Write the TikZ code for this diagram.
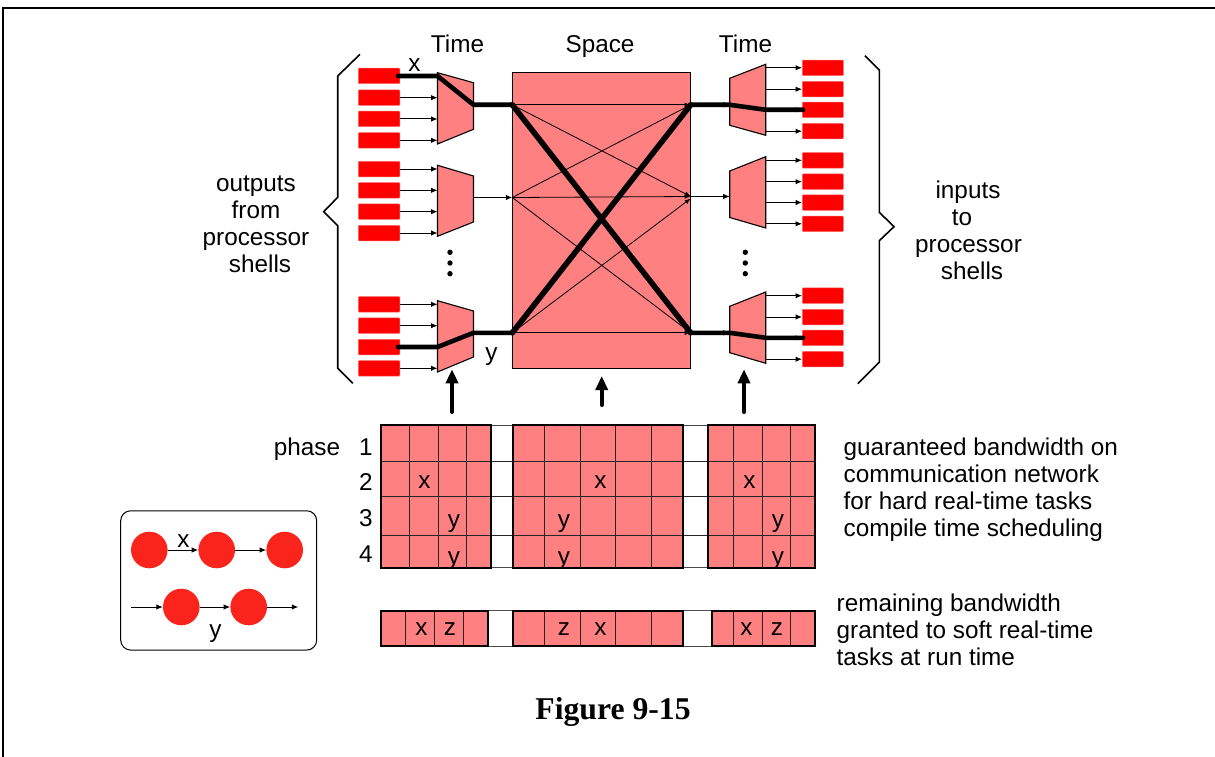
\documentclass[tikz,border=0pt]{standalone}
\usepackage{fontspec}
\setmainfont{Liberation Sans}
\newfontfamily\figfont{Liberation Serif}
\usetikzlibrary{arrows.meta,calc}
\definecolor{cellpink}{HTML}{FF8080}
\definecolor{barred}{HTML}{FF0000}
\definecolor{circred}{HTML}{FA241C}
\tikzset{
  x=1pt,y=-1pt,
  lbl/.style={inner sep=0pt,anchor=base,font=\fontsize{24.3}{27}\selectfont},
  lbll/.style={lbl,anchor=base west},
  barbox/.style={fill=barred,draw=barred!60!white,line width=.5pt,rounded corners=.8pt,minimum width=41.5pt,minimum height=15.5pt,inner sep=0pt},
  rbarbox/.style={barbox,minimum width=41pt},
  thinarr/.style={line width=1pt,-{Latex[length=6.5pt,width=5.5pt]}},
  thickln/.style={line width=4.6pt,line cap=round,line join=round},
  thickdiag/.style={line width=5.6pt,line cap=round},
  tz/.style={fill=cellpink,draw=black,line width=1.1pt,line join=miter},
  xbar/.style={line width=.8pt,-{Latex[length=6pt,width=4.5pt]}},
  brace/.style={line width=1.6pt,line join=miter},
  upar/.style={line width=4pt,line cap=round,-{Triangle[length=14pt,width=12pt]}},
  blockb/.style={draw=black,line width=2pt},
  gridl/.style={draw=black!85,line width=.9pt},
  gapl/.style={draw=black!70,line width=.9pt},
  circ/.style={circle,fill=circred,draw=none,minimum size=36.6pt,inner sep=0pt},
  dotn/.style={circle,fill=black,minimum size=5.4pt,inner sep=0pt},
}
\begin{document}
\begin{tikzpicture}
\useasboundingbox (0,0) rectangle (1215,757);
% frame
\coordinate (fa) at (3,757); \coordinate (fb) at (3,8); \coordinate (fc) at (1215,8);
\draw[line width=2pt,line join=miter] (fa) -- (fb) -- (fc);
% left bars
\foreach \n/\y in {1/76,2/97.7,3/119,4/140.3,5/169,6/190.3,7/211.7,8/233,9/304.3,10/325.7,11/347,12/368.3}
  \node[barbox] (lb\n) at (379,\y) {};
% right bars
\foreach \n/\y in {1/67.8,2/89.2,3/109.8,4/131.2,5/160.3,6/181.7,7/202.5,8/223.8,9/295.7,10/317,11/337.8,12/359.2}
  \node[rbarbox] (rb\n) at (822.8,\y) {};
% space rectangle
\node[fill=cellpink,draw=black,line width=1.1pt,minimum width=178.4pt,minimum height=295.6pt,inner sep=0pt] (sp) at (601.5,220.5) {};
\coordinate (sl1) at (512.3,104.8); \coordinate (sl2) at (512.3,197.5); \coordinate (sl3) at (512.3,332.8);
\coordinate (sr1) at (690.7,104.8); \coordinate (sr2) at (690.7,196.5); \coordinate (sr3) at (690.7,332.8);
\coordinate (sr2b) at (690.7,198.5);
% left trapezoids
\coordinate (lt1a) at (437.5,72.7);\coordinate (lt1b) at (473.5,82.7);\coordinate (lt1c) at (473.5,129.3);\coordinate (lt1d) at (437.5,144);
\coordinate (lt2a) at (437.5,165.3);\coordinate (lt2b) at (473.5,176);\coordinate (lt2c) at (473.5,222);\coordinate (lt2d) at (437.5,236.3);
\coordinate (lt3a) at (437.5,300.7);\coordinate (lt3b) at (473.5,311);\coordinate (lt3c) at (473.5,357);\coordinate (lt3d) at (437.5,372);
% right trapezoids
\coordinate (rt1a) at (729.7,78.3);\coordinate (rt1b) at (765.7,64.3);\coordinate (rt1c) at (765.7,135.3);\coordinate (rt1d) at (729.7,125.3);
\coordinate (rt2a) at (729.7,171);\coordinate (rt2b) at (765.7,156.7);\coordinate (rt2c) at (765.7,228);\coordinate (rt2d) at (729.7,217.5);
\coordinate (rt3a) at (729.7,306.3);\coordinate (rt3b) at (765.7,292);\coordinate (rt3c) at (765.7,363.3);\coordinate (rt3d) at (729.7,352.7);
\foreach \t in {lt1,lt2,lt3,rt1,rt2,rt3}
  \draw[tz] (\t a) -- (\t b) -- (\t c) -- (\t d) -- cycle;
% bar to mux arrows
\foreach \n/\t in {2/lt1,3/lt1,4/lt1,5/lt2,6/lt2,7/lt2,8/lt2,9/lt3,10/lt3,12/lt3}
  \draw[thinarr] (lb\n.east) -- (lb\n.east -| \t a);
\foreach \n/\t in {1/rt1,2/rt1,3/rt1,4/rt1,5/rt2,6/rt2,7/rt2,8/rt2,9/rt3,10/rt3,11/rt3,12/rt3}
  \draw[thinarr] (rb\n.west -| \t b) -- (rb\n.west);
% mux to space
\draw[thinarr] (sl2 -| lt2b) -- (sl2);
\draw[thinarr] (sr2) -- (sr2 -| rt2a);
\draw[thinarr] (sr1) -- (sr1 -| rt1a);
\draw[thinarr] (sr3) -- (sr3 -| rt3a);
% crossbar
\draw[xbar] (sl1) -- (sr1);
\draw[xbar] (sl1) -- (sr2);
\draw[xbar] (sl2) -- (sr1);
\draw[xbar] (sl2) -- (sr2);
\draw[xbar] (sl2) -- (sr3);
\draw[xbar] (sl3) -- (sr2b);
\draw[xbar] (sl3) -- (sr3);
% thick routes
\coordinate (xa) at (lt1a |- lb1.east); \coordinate (xb) at (lt1b |- sl1);
\coordinate (ya) at (lt3a |- lb11.east); \coordinate (yb) at (lt3b |- sl3);
\draw[thickdiag] (sl1) -- (sr3);
\draw[thickdiag] (sl3) -- (sr1);
\draw[thickln] ($(lb1.east)+(-2,0)$) -- (xa) -- (xb) -- (sl1);
\draw[thickln] (sr3) -- (sr3 -| rt3a) -- (rt3b |- rb11.west) -- ($(rb11.west)+(1,0)$);
\draw[thickln] ($(lb11.east)+(-2,0)$) -- (ya) -- (yb) -- (sl3);
\draw[thickln] (sr1) -- (sr1 -| rt1a) -- (rt1b |- rb3.west) -- ($(rb3.west)+(1,0)$);
% braces
\coordinate (bla) at (360,54.3); \coordinate (blb) at (337.7,76); \coordinate (blc) at (337.7,197.3); \coordinate (bld) at (323.7,211.7);
\coordinate (ble) at (337.7,225.7); \coordinate (blf) at (337.7,368.3); \coordinate (blg) at (352.7,383.3);
\draw[brace] (bla) -- (blb) -- (blc) -- (bld) -- (ble) -- (blf) -- (blg);
\coordinate (bra) at (865,55.7); \coordinate (brb) at (879.3,70); \coordinate (brc) at (879.3,212.3); \coordinate (brd) at (894,226.7);
\coordinate (bre) at (879.3,240.7); \coordinate (brf) at (879.3,362.3); \coordinate (brg) at (857.7,383.7);
\draw[brace] (bra) -- (brb) -- (brc) -- (brd) -- (bre) -- (brf) -- (brg);
% dots
\foreach \i/\y in {1/252.3,2/263,3/273.7}{
  \node[dotn] (dl\i) at (450,\y) {};
  \node[dotn] (dr\i) at (745.3,\y) {};
}
% up arrows
\coordinate (ua1) at (452,412); \coordinate (ua2) at (452,369.3);
\coordinate (ub1) at (601.7,405); \coordinate (ub2) at (601.7,376);
\coordinate (uc1) at (744,412); \coordinate (uc2) at (744,369.3);
\draw[upar] (ua1) -- (ua2);
\draw[upar] (ub1) -- (ub2);
\draw[upar] (uc1) -- (uc2);
% top grid
\def\gy{425.3} \def\gyb{567.7}
\fill[cellpink] (380.7,\gy) rectangle (491.3,\gyb);
\fill[cellpink] (512.7,\gy) rectangle (683.3,\gyb);
\fill[cellpink] (708.3,\gy) rectangle (815.3,\gyb);
\foreach \y in {461,496.3,535.7} \draw[gridl] (380.7,\y) -- (815.3,\y);
\foreach \a/\b in {491.3/512.7,683.3/708.3}{
  \draw[gapl] (\a,\gy) -- (\b,\gy);
  \draw[gapl] (\a,\gyb) -- (\b,\gyb);
}
\foreach \x in {409.3,438,466.7,544.7,580.3,615.7,651.7,733.7,762.3,790.7}
  \draw[gridl] (\x,\gy) -- (\x,\gyb);
\draw[blockb] (380.7,\gy) rectangle (491.3,\gyb);
\draw[blockb] (512.7,\gy) rectangle (683.3,\gyb);
\draw[blockb] (708.3,\gy) rectangle (815.3,\gyb);
% lower strip
\def\sy{610.7} \def\syb{646}
\fill[cellpink] (380.7,\sy) rectangle (487.7,\syb);
\fill[cellpink] (512.7,\sy) rectangle (683.3,\syb);
\fill[cellpink] (712,\sy) rectangle (815.3,\syb);
\foreach \a/\b in {487.7/512.7,683.3/712}{
  \draw[gapl] (\a,\sy) -- (\b,\sy);
  \draw[gapl] (\a,\syb) -- (\b,\syb);
}
\foreach \x in {405.7,434.3,463,544.7,580.3,615.7,651.7,733.7,762.3,790.7}
  \draw[gridl] (\x,\sy) -- (\x,\syb);
\draw[blockb] (380.7,\sy) rectangle (487.7,\syb);
\draw[blockb] (512.7,\sy) rectangle (683.3,\syb);
\draw[blockb] (712,\sy) rectangle (815.3,\syb);
% legend
\node[draw=black,line width=1pt,rounded corners=10pt,minimum width=196pt,minimum height=139.3pt,inner sep=0pt] (leg) at (218.7,580.4) {};
\node[circ] (c1) at (149.3,550) {};
\node[circ] (c2) at (216.7,550) {};
\node[circ] (c3) at (284.7,550) {};
\node[circ] (c4) at (181.3,607) {};
\node[circ] (c5) at (248.7,607) {};
\coordinate (cin) at (131,607); \coordinate (cout) at (298.3,607);
\draw[thinarr] (c1) -- (c2);
\draw[thinarr] (c2) -- (c3);
\draw[thinarr] (cin) -- (c4);
\draw[thinarr] (c4) -- (c5);
\draw[thinarr] (c5) -- (cout);
% labels
\node[lbl] (t1) at (457.5,53) {Time};
\node[lbl] (t2) at (600,53) {Space};
\node[lbl] (t3) at (745.5,53) {Time};
\node[lbl] (lx) at (414.5,72) {x};
\node[lbl] (ly) at (491.5,360) {y};
\node[lbl] (o1) at (256,191.5) {outputs};
\node[lbl] (o2) at (256,218) {from};
\node[lbl] (o3) at (256,245) {processor};
\node[lbl] (o4) at (260,272.5) {shells};
\node[lbl] (i1) at (968,198) {inputs};
\node[lbl] (i2) at (962,225) {to};
\node[lbl] (i3) at (968.5,252) {processor};
\node[lbl] (i4) at (972,279.5) {shells};
\node[lbl] (ph) at (307,455) {phase};
\foreach \i/\y in {1/455,2/490.5,3/526,4/562}
  \node[lbl] (num\i) at (366,\y) {\i};
\foreach \i/\x/\y/\s in {a/424.5/488/x,b/600.5/488/x,c/749.5/488/x,d/454/527/y,e/564/527/y,f/778/527/y,g/454/564/y,h/564/564/y,i/778/564/y,j/421.5/635/x,k/450/635/z,l/564/635/z,m/600.5/635/x,n/746.5/635/x,o/777/635/z}
  \node[lbl] (cell\i) at (\x,\y) {\s};
\node[lbl] (lex) at (183.5,547) {x};
\node[lbl] (ley) at (215.5,637) {y};
\node[lbll] (g1) at (843.5,455) {guaranteed bandwidth on};
\node[lbll] (g2) at (843.5,482) {communication network};
\node[lbll] (g3) at (843.5,509) {for hard real-time tasks};
\node[lbll] (g4) at (843.5,536) {compile time scheduling};
\node[lbll] (r1) at (836.5,611) {remaining bandwidth};
\node[lbll] (r2) at (836.5,638) {granted to soft real-time};
\node[lbll] (r3) at (836.5,665) {tasks at run time};
\node[inner sep=0pt,anchor=base,font=\figfont\bfseries\fontsize{31.7}{36}\selectfont] (fig) at (613,719.5) {Figure 9-15};
\end{tikzpicture}
\end{document}
